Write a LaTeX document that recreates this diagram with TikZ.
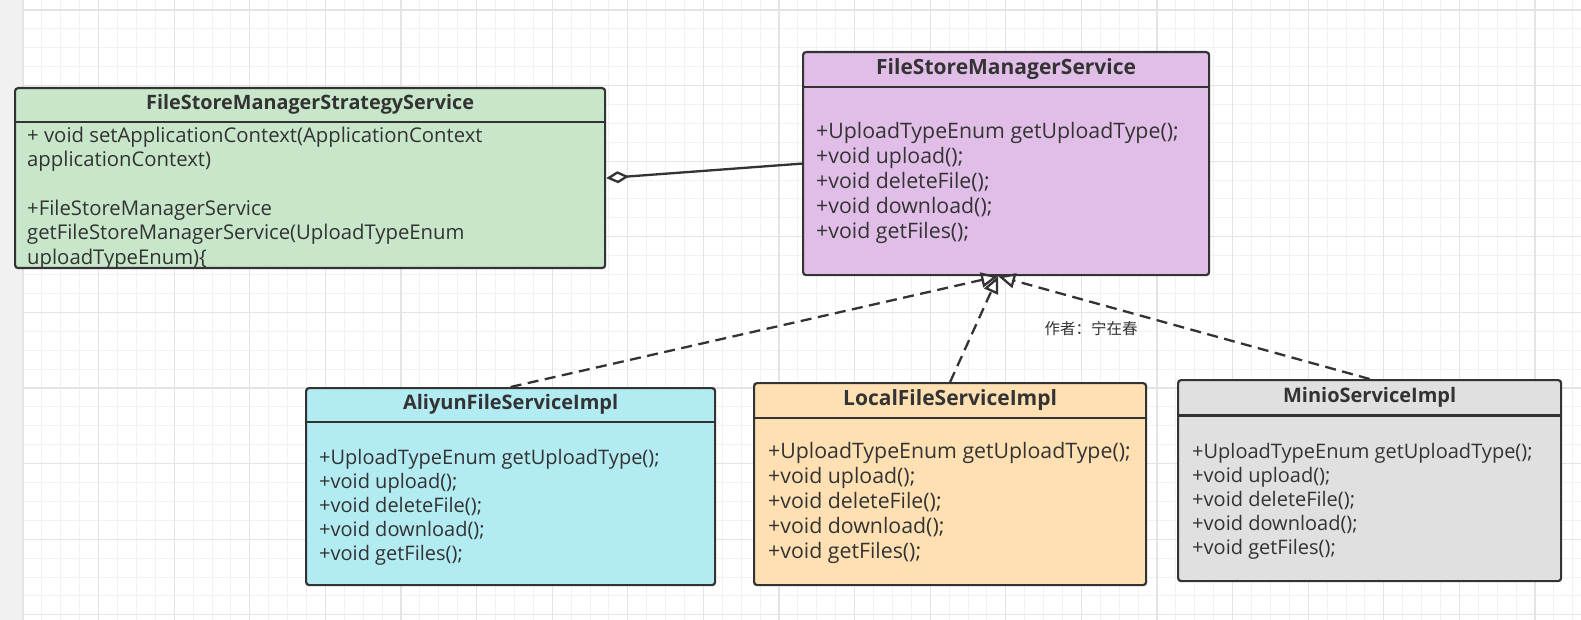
\documentclass[tikz,border=0pt]{standalone}
\usepackage{fontspec}
\setmainfont{Open Sans}
\newfontfamily\cjkfont{Noto Sans CJK SC}
\usetikzlibrary{positioning,calc,arrows.meta}

\definecolor{gridminor}{HTML}{F2F2F2}
\definecolor{gridmajor}{HTML}{E4E4E4}
\definecolor{sidebar}{HTML}{F1F1F1}
\definecolor{edge}{HTML}{333333}
\definecolor{txt}{HTML}{333333}
\definecolor{greenfill}{HTML}{C8E6C9}
\definecolor{purplefill}{HTML}{E1BEE7}
\definecolor{cyanfill}{HTML}{B2EBF2}
\definecolor{orangefill}{HTML}{FFE0B2}
\definecolor{grayfill}{HTML}{E0E0E0}

\tikzset{
  classbox/.style={draw=edge, line width=2.2pt, rounded corners=3pt, anchor=north west, inner sep=0pt},
  headline/.style={draw=edge, line width=2.2pt},
  classname/.style={font=\bfseries\fontsize{21}{25}\selectfont, text=txt, inner sep=0pt},
  members/.style={font=\fontsize{21.3}{24.8}\selectfont, text=txt, align=left, anchor=north west, inner sep=0pt},
  smallmembers/.style={members, font=\fontsize{20}{24}\selectfont},
  realize/.style={draw=edge, line width=2.3pt, dash pattern=on 11pt off 6.5pt, -{Triangle[open, length=17pt, width=15pt]}},
  aggregate/.style={draw=edge, line width=2.3pt, {Diamond[open, length=23pt, width=12pt]}-},
}

\begin{document}
\begin{tikzpicture}[x=1pt,y=-1pt]
    % Background
    \useasboundingbox (0,0) rectangle (1581,620);
    \fill[white] (0,0) rectangle (1581,620);
    \fill[sidebar] (0,0) rectangle (22,620);
    \foreach \i in {0,...,82}
        \draw[gridminor, line width=1pt] ({23+18.9*\i},0) -- ({23+18.9*\i},620);
    \foreach \j in {0,...,32}
        \draw[gridminor, line width=1pt] (23,{10+18.9*\j}) -- (1581,{10+18.9*\j});
    \foreach \i in {0,...,20}
        \draw[gridmajor, line width=1.2pt] ({23+75.6*\i},0) -- ({23+75.6*\i},620);
    \foreach \j in {0,...,8}
        \draw[gridmajor, line width=1.2pt] (23,{10+75.6*\j}) -- (1581,{10+75.6*\j});

    % Classes
    \node[classbox, fill=greenfill, minimum width=590pt, minimum height=180pt] (strategy) at (14,87) {};
    \node[classbox, fill=purplefill, minimum width=406pt, minimum height=223pt] (fsms) at (802,51) {};
    \node[classbox, fill=cyanfill, minimum width=409pt, minimum height=197pt] (aliyun) at (305,387) {};
    \node[classbox, fill=orangefill, minimum width=392pt, minimum height=202pt] (local) at (753,382) {};
    \node[classbox, fill=grayfill, minimum width=383pt, minimum height=201pt] (minio) at (1177,379) {};

    % Headers
    \draw[headline] ($(strategy.north west)+(0,35)$) -- ($(strategy.north east)+(0,35)$);
    \draw[headline] ($(fsms.north west)+(0,36)$) -- ($(fsms.north east)+(0,36)$);
    \draw[headline] ($(aliyun.north west)+(0,35)$) -- ($(aliyun.north east)+(0,35)$);
    \draw[headline] ($(local.north west)+(0,36)$) -- ($(local.north east)+(0,36)$);
    \draw[headline] ($(minio.north west)+(0,36.5)$) -- ($(minio.north east)+(0,36.5)$);

    \node[classname, font=\bfseries\fontsize{19.8}{24}\selectfont] (strategyname) at ($(strategy.north)+(0,17.5)$) {FileStoreManagerStrategyService};
    \node[classname] (fsmsname) at ($(fsms.north)+(0,18)$) {FileStoreManagerService};
    \node[classname, font=\bfseries\fontsize{20}{24}\selectfont] (aliyunname) at ($(aliyun.north)+(0,17.5)$) {AliyunFileServiceImpl};
    \node[classname] (localname) at ($(local.north)+(0,18)$) {LocalFileServiceImpl};
    \node[classname, font=\bfseries\fontsize{20}{24}\selectfont] (minioname) at ($(minio.north)+(0,18)$) {MinioServiceImpl};

    % Members
    \node[smallmembers, font=\fontsize{20.3}{24.4}\selectfont] (strategybody) at ($(strategy.north west)+(13,39.5)$)
        {+ void setApplicationContext(ApplicationContext\\applicationContext)\\[24.4pt]+FileStoreManagerService\\getFileStoreManagerService(UploadTypeEnum\\uploadTypeEnum)\{};
    \node[members] (fsmsbody) at ($(fsms.north west)+(14,71.5)$)
        {+UploadTypeEnum getUploadType();\\+void upload();\\+void deleteFile();\\+void download();\\+void getFiles();};
    \node[smallmembers] (aliyunbody) at ($(aliyun.north west)+(14,62)$)
        {+UploadTypeEnum getUploadType();\\+void upload();\\+void deleteFile();\\+void download();\\+void getFiles();};
    \node[members] (localbody) at ($(local.north west)+(15,60.5)$)
        {+UploadTypeEnum getUploadType();\\+void upload();\\+void deleteFile();\\+void download();\\+void getFiles();};
    \node[smallmembers] (miniobody) at ($(minio.north west)+(15,64.5)$)
        {+UploadTypeEnum getUploadType();\\+void upload();\\+void deleteFile();\\+void download();\\+void getFiles();};

    % Relations
    \coordinate (target) at ($(fsms.south)+(-8,0)$);
    \draw[aggregate] (strategy.east) -- (fsms.west);
    \draw[realize] (aliyun.north) -- (target);
    \draw[realize] (local.north) -- (target);
    \draw[realize] (minio.north) -- (target);

    \node[text=txt, font=\cjkfont\fontsize{15.5}{18}\selectfont, inner sep=0pt] (author) at (1091,329) {作者：宁在春};
\end{tikzpicture}
\end{document}
